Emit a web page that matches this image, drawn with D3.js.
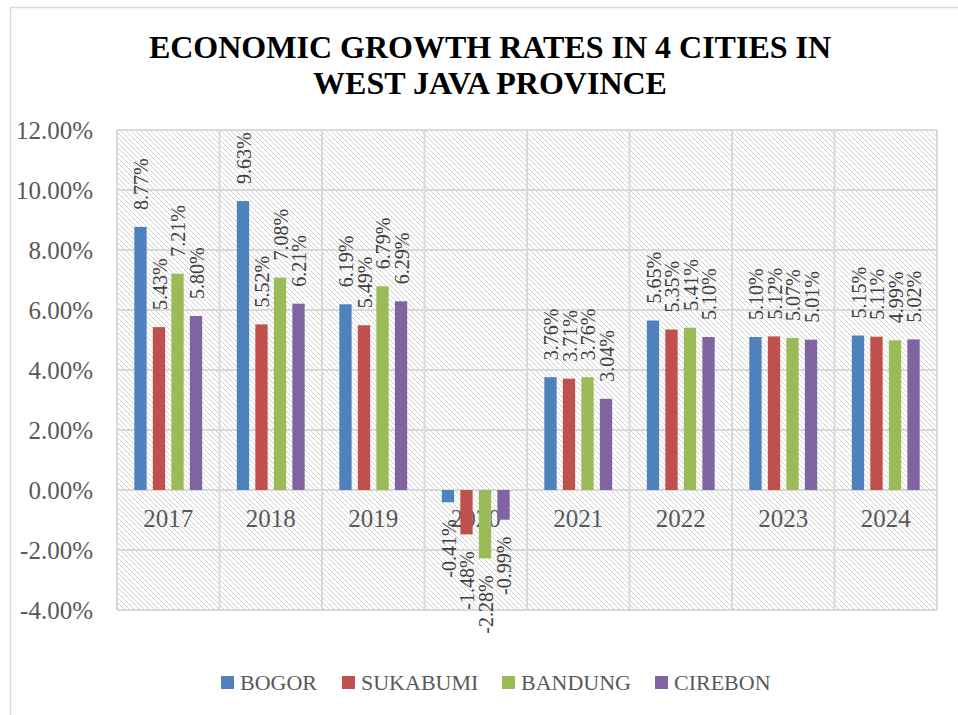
<!DOCTYPE html>
<html><head><meta charset="utf-8">
<script src="https://cdn.jsdelivr.net/npm/d3@7"></script>
<style>html,body{margin:0;padding:0;background:#fff;overflow:hidden}</style>
</head><body>
<svg id="chart" width="958" height="715"></svg>
<script>
const years = ["2017","2018","2019","2020","2021","2022","2023","2024"];
const seriesNames = ["BOGOR","SUKABUMI","BANDUNG","CIREBON"];
const bogor    = [8.77, 9.63, 6.19, -0.41, 3.76, 5.65, 5.10, 5.15];
const sukabumi = [5.43, 5.52, 5.49, -1.48, 3.71, 5.35, 5.12, 5.11];
const bandung  = [7.21, 7.08, 6.79, -2.28, 3.76, 5.41, 5.07, 4.99];
const cirebon  = [5.80, 6.21, 6.29, -0.99, 3.04, 5.10, 5.01, 5.02];
const yTicks = [-4, -2, 0, 2, 4, 6, 8, 10, 12];
const colors = ["#4f81bd","#c0504d","#9bbb59","#8064a2"];
const titleLines = ["ECONOMIC GROWTH RATES IN 4 CITIES IN","WEST JAVA PROVINCE"];

const values = [bogor, sukabumi, bandung, cirebon];
const fmt = d3.formatLocale({decimal:".", thousands:",", grouping:[3], currency:["",""], minus:"-"}).format(".2f");
const svg = d3.select("#chart");
const margin = {left:117, right:937, top:130, bottom:610};

// outer chart border
svg.append("rect").attr("x",10.5).attr("y",7.5).attr("width",980).attr("height",740)
  .attr("fill","#fff").attr("stroke","#d9d9d9").attr("stroke-width",1.5);

// hatch pattern
const defs = svg.append("defs");
const pat = defs.append("pattern").attr("id","hatch").attr("patternUnits","userSpaceOnUse")
  .attr("width",5).attr("height",5);
pat.append("rect").attr("width",5).attr("height",5).attr("fill","#fff");
pat.append("path").attr("d","M0,0L5,5M-1,4L1,6M4,-1L6,1").attr("stroke","#d0d0d0").attr("stroke-width",1);

const x0 = d3.scaleBand().domain(years).range([margin.left, margin.right]).padding(0);
const bw = x0.bandwidth();
const x1 = d3.scaleBand().domain(seriesNames).range([bw*0.169, bw*0.831]).paddingInner(0.335).paddingOuter(0);
const y = d3.scaleLinear().domain([-4,12]).range([margin.bottom, margin.top]);

// plot background
svg.append("rect").attr("x",margin.left).attr("y",margin.top)
  .attr("width",margin.right-margin.left).attr("height",margin.bottom-margin.top)
  .attr("fill","url(#hatch)");

// horizontal gridlines
svg.append("g").selectAll("line").data(yTicks).join("line")
  .attr("x1",margin.left).attr("x2",margin.right)
  .attr("y1",d=>y(d)).attr("y2",d=>y(d))
  .attr("stroke","#d9d9d9").attr("stroke-width",2);
// vertical gridlines at band boundaries
const bounds = years.map(d=>x0(d)).concat([margin.right]);
svg.append("g").selectAll("line").data(bounds).join("line")
  .attr("x1",d=>d).attr("x2",d=>d).attr("y1",margin.top).attr("y2",margin.bottom)
  .attr("stroke","#d9d9d9").attr("stroke-width",2);

// y tick labels
svg.append("g").selectAll("text").data(yTicks).join("text")
  .attr("x",93).attr("y",d=>y(d)).attr("dy","0.35em")
  .attr("text-anchor","end").attr("font-family","'Liberation Serif', serif")
  .attr("font-size",25).attr("fill","#595959")
  .text(d=>fmt(d)+"%");

// category labels
svg.append("g").selectAll("text").data(years).join("text")
  .attr("x",d=>x0(d)+bw/2).attr("y",y(0)+37)
  .attr("text-anchor","middle").attr("font-family","'Liberation Serif', serif")
  .attr("font-size",25).attr("fill","#595959").text(d=>d);

// bars
const flat = [];
years.forEach((yr,i)=>seriesNames.forEach((s,j)=>flat.push({yr, s, j, v: values[j][i]})));
svg.append("g").selectAll("rect").data(flat).join("rect")
  .attr("x",d=>x0(d.yr)+x1(d.s)).attr("width",x1.bandwidth())
  .attr("y",d=>y(Math.max(0,d.v))).attr("height",d=>Math.abs(y(d.v)-y(0)))
  .attr("fill",d=>colors[d.j]);

// data labels
svg.append("g").selectAll("text").data(flat).join("text")
  .attr("transform",d=>{
    const cx = x0(d.yr)+x1(d.s)+x1.bandwidth()/2;
    const cy = d.v>=0 ? y(d.v)-17 : y(d.v)+17;
    return `translate(${cx},${cy}) rotate(-90)`;
  })
  .attr("dy","0.38em")
  .attr("text-anchor",d=>d.v>=0?"start":"end")
  .attr("font-family","'Liberation Serif', serif").attr("font-size",20).attr("fill","#404040")
  .text(d=>fmt(d.v)+"%");

// title
svg.append("g").selectAll("text").data(titleLines).join("text")
  .attr("x",490).attr("y",(d,i)=>58+i*36).attr("text-anchor","middle")
  .attr("font-family","'Liberation Serif', 'Times New Roman', serif").attr("font-weight","bold")
  .attr("font-size",32).attr("fill","#000").text(d=>d);

// legend
const legX = [221, 342, 502, 655];
const leg = svg.append("g").selectAll("g").data(seriesNames).join("g")
  .attr("transform",(d,i)=>`translate(${legX[i]},676)`);
leg.append("rect").attr("width",13).attr("height",13).attr("fill",(d,i)=>colors[i]);
leg.append("text").attr("x",19).attr("y",14).attr("font-family","'Liberation Serif', serif")
  .attr("font-size",22).attr("fill","#595959").text(d=>d);
</script>
</body></html>
